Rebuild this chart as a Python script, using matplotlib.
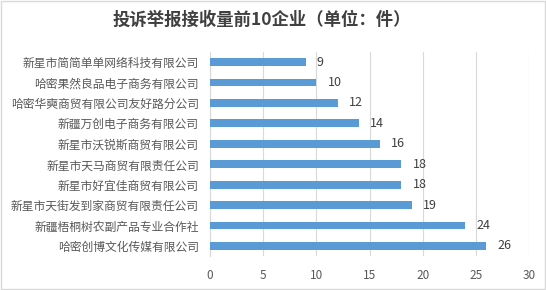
import matplotlib
matplotlib.use("Agg")
import matplotlib.pyplot as plt
from matplotlib.patches import Rectangle

plt.rcParams['font.family'] = ['Noto Sans CJK SC', 'DejaVu Sans']

# data, top to bottom as shown
companies = [
    "新星市简简单单网络科技有限公司",
    "哈密果然良品电子商务有限公司",
    "哈密华奭商贸有限公司友好路分公司",
    "新疆万创电子商务有限公司",
    "新星市沃锐斯商贸有限公司",
    "新星市天马商贸有限责任公司",
    "新星市好宜佳商贸有限公司",
    "新星市天街发到家商贸有限责任公司",
    "新疆梧桐树农副产品专业合作社",
    "哈密创博文化传媒有限公司",
]
counts = [9, 10, 12, 14, 16, 18, 18, 19, 24, 26]
x_ticks = [0, 5, 10, 15, 20, 25, 30]

bar_color = "#5B9BD5"
grid_color = "#D9D9D9"
text_color = "#595959"

fig = plt.figure(figsize=(5.46, 2.90), dpi=100)
ax = fig.add_axes([210 / 546, 1 - 256.2 / 290, (529 - 210) / 546, (256.2 - 51.8) / 290])

ypos = list(range(len(companies)))
ax.barh(ypos, counts, height=0.38, color=bar_color, zorder=3)
ax.set_ylim(len(companies) - 0.5, -0.5)
ax.set_xlim(0, 30)

ax.set_yticks(ypos)
ax.set_yticklabels(companies, fontsize=8.5, color=text_color)
ax.set_xticks(x_ticks)
ax.set_xticklabels([str(t) for t in x_ticks], fontsize=8.5, color=text_color)
ax.tick_params(axis='both', length=0)
ax.tick_params(axis='y', pad=8)
ax.tick_params(axis='x', pad=9)

ax.grid(axis='x', color=grid_color, linewidth=0.8, zorder=0)
for s in ['top', 'right', 'bottom']:
    ax.spines[s].set_visible(False)
ax.spines['left'].set_color(grid_color)
ax.spines['left'].set_linewidth(0.8)

for y, v in zip(ypos, counts):
    ax.annotate(str(v), (v, y), xytext=(8, 0), textcoords="offset points",
                ha='left', va='center', fontsize=9, color="#404040")

fig.text(262 / 546, 1 - 20 / 290, "投诉举报接收量前10企业（单位：件）", ha='center', va='center',
         fontsize=12.5, fontweight='bold', color="#404040")

# outer chart border
fig.patches.append(Rectangle((0.001, 0.002), 0.997, 0.995, transform=fig.transFigure,
                             fill=False, edgecolor="#D9D9D9", linewidth=1))

fig.savefig("out.png", dpi=100)
